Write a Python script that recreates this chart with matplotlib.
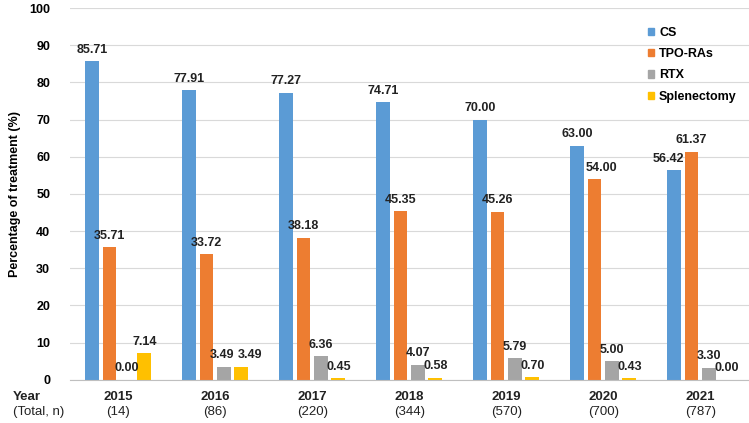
import numpy as np
import matplotlib.pyplot as plt
from matplotlib.patches import Patch

plt.rcParams['font.family'] = ['Liberation Sans', 'DejaVu Sans']

# Datos del gráfico
years = ['2015', '2016', '2017', '2018', '2019', '2020', '2021']
totals = ['(14)', '(86)', '(220)', '(344)', '(570)', '(700)', '(787)']
series_names = ['CS', 'TPO-RAs', 'RTX', 'Splenectomy']
cs = [85.71, 77.91, 77.27, 74.71, 70.00, 63.00, 56.42]
tpo = [35.71, 33.72, 38.18, 45.35, 45.26, 54.00, 61.37]
rtx = [0.00, 3.49, 6.36, 4.07, 5.79, 5.00, 3.30]
splen = [7.14, 3.49, 0.45, 0.58, 0.70, 0.43, 0.00]
colors = ['#5B9BD5', '#ED7D31', '#A5A5A5', '#FFC000']

# Pequeños desplazamientos (en puntos) de etiquetas que se solapan: (serie, año) -> dx
nudges = {(1, 5): 5, (0, 6): -4, (2, 1): -1.5, (3, 1): 6}

fig = plt.figure(figsize=(7.49, 4.23), dpi=100)
ax = fig.add_axes([0.093, 0.102, 0.9065, 0.879])

x = np.arange(len(years))
step = 0.18
width = 0.142
for i, (vals, col) in enumerate(zip([cs, tpo, rtx, splen], colors)):
    pos = x + (i - 1.5) * step
    ax.bar(pos, vals, width=width, color=col, zorder=2)
    for j, (px, v) in enumerate(zip(pos, vals)):
        dx = nudges.get((i, j), 0)
        ax.annotate(f'{v:.2f}', (px, v), xytext=(dx, 4), textcoords='offset points',
                    ha='center', va='bottom', fontsize=9, fontweight='bold', color='#222222')

ax.set_xlim(-0.5, len(years) - 0.5)
ax.set_ylim(0, 100)
ax.set_yticks(np.arange(0, 101, 10))
ax.tick_params(axis='y', length=0, pad=14, labelsize=9)
for lbl in ax.get_yticklabels():
    lbl.set_fontweight('bold')
ax.set_xticks([])
ax.grid(axis='y', color='#D9D9D9', linewidth=0.8, zorder=0)
for s in ['top', 'right', 'left']:
    ax.spines[s].set_visible(False)
ax.spines['bottom'].set_color('#BFBFBF')

ax.set_ylabel('Percentage of treatment (%)', fontsize=9, fontweight='bold', labelpad=6)

# Etiquetas del eje x en dos líneas
tr = ax.get_xaxis_transform()
for xi, y, n in zip(x, years, totals):
    ax.text(xi, -0.045, y, transform=tr, ha='center', va='center',
            fontsize=9.5, fontweight='bold', color='#222222')
    ax.text(xi, -0.087, n, transform=tr, ha='center', va='center',
            fontsize=9.5, color='#222222')
fig.text(13 / 749, 1 - 397 / 423, 'Year', ha='left', va='center',
         fontsize=9.5, fontweight='bold', color='#222222')
fig.text(13 / 749, 1 - 412 / 423, '(Total, n)', ha='left', va='center',
         fontsize=9.5, color='#222222')

handles = [Patch(color=c, label=n) for c, n in zip(colors, series_names)]
leg = ax.legend(handles=handles, loc='upper left', bbox_to_anchor=(0.835, 0.98),
                frameon=False, handlelength=0.5, handleheight=0.5,
                handletextpad=0.4, labelspacing=0.75, prop={'weight': 'bold', 'size': 9})

plt.savefig('out.png', dpi=100)
plt.close()
